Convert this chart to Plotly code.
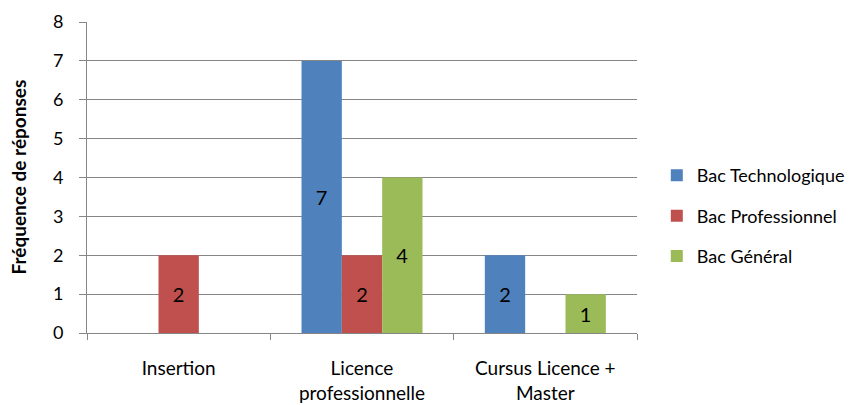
import plotly.graph_objects as go

categories = ["Insertion", "Licence<br>professionnelle", "Cursus Licence +<br>Master"]
series_names = ["Bac Technologique", "Bac Professionnel", "Bac Général"]
bac_techno = [0, 7, 2]
bac_pro = [2, 2, 0]
bac_general = [0, 4, 1]
y_ticks = [0, 1, 2, 3, 4, 5, 6, 7, 8]
y_title = "Fréquence de réponses"

colors = ["#4F81BD", "#C0504D", "#9BBB59"]
FONT = "Lato, 'Open Sans', sans-serif"

fig = go.Figure()
for i, (name, vals) in enumerate(zip(series_names, [bac_techno, bac_pro, bac_general])):
    fig.add_trace(go.Bar(
        x=categories, y=vals, name=name,
        marker=dict(color=colors[i], line=dict(width=0)),
        text=[str(v) if v else "" for v in vals],
        textposition="inside", insidetextanchor="middle",
        textfont=dict(color="black", size=20, family=FONT),
        constraintext="none",
        legendgroup=name,
    ))

fig.add_annotation(
    text="<b>" + y_title + "</b>", xref="paper", yref="paper",
    x=0, y=0.5, xanchor="center", yanchor="middle", xshift=-69,
    textangle=-90, showarrow=False, font=dict(size=19, family=FONT, color="black"),
)

fig.update_layout(
    width=857, height=405,
    margin=dict(l=79, r=228, t=14, b=80, autoexpand=False),
    paper_bgcolor="white", plot_bgcolor="white",
    barmode="group", bargap=0.34, bargroupgap=0,
    font=dict(family=FONT, color="black", size=18),
    showlegend=True,
    legend=dict(x=1.036, y=0.376, xanchor="left", yanchor="middle",
                font=dict(size=18), tracegroupgap=14,
                itemwidth=30, bgcolor="rgba(0,0,0,0)"),
    xaxis=dict(
        type="category", tickson="boundaries", ticks="outside", ticklen=6,
        tickcolor="#868686", showline=True, linecolor="#868686", linewidth=1,
        showgrid=False, tickfont=dict(size=19), ticklabelstandoff=18,
        automargin=False,
    ),
    yaxis=dict(
        range=[0, 8], tickvals=y_ticks, ticks="outside", ticklen=7,
        tickcolor="#868686", showline=True, linecolor="#868686", linewidth=1,
        showgrid=True, gridcolor="#868686", gridwidth=1, zeroline=False,
        tickfont=dict(size=18), ticklabelstandoff=12, automargin=False,
    ),
)

fig.write_html("out.html")
